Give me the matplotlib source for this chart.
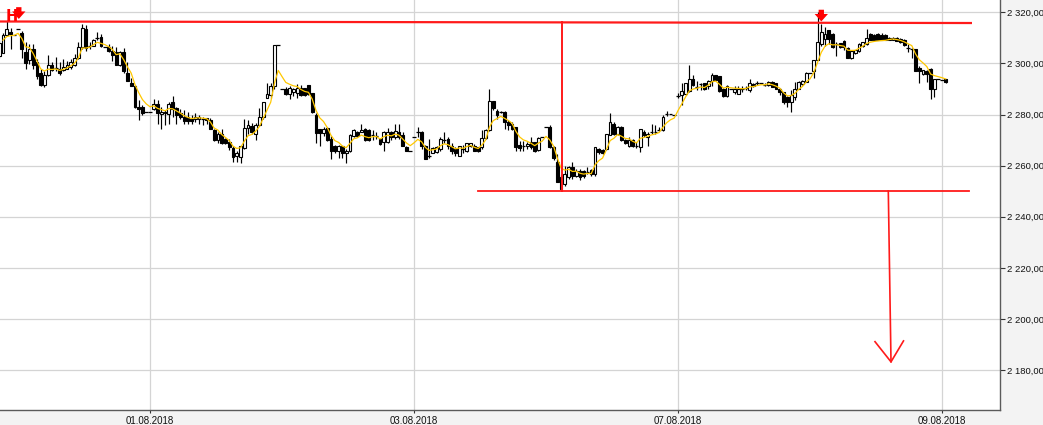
import numpy as np
import pandas as pd
import matplotlib
matplotlib.use("Agg")
import matplotlib.pyplot as plt
from matplotlib.ticker import FixedLocator, FuncFormatter

# ---------------- data (15-min candles) ----------------
opens = [
 2303.0,2304.1,2311.3,2312.4,2311.3,2313.3,2312.0,2304.4,2301.3,2305.7,
 2300.4,2296.4,2291.7,2295.3,2299.3,2298.5,2297.7,2297.5,2298.0,2298.4,
 2299.3,2302.0,2306.3,2313.5,2307.1,2307.0,2310.0,2310.4,2306.4,2306.4,
 2305.0,2304.4,2299.3,2304.4,2296.1,2292.4,2291.3,2283.0,2282.8,2280.8,
 2280.8,2282.0,2284.1,2280.1,2281.0,2280.1,2285.0,2282.4,2280.4,2279.0,
 2279.0,2278.4,2278.4,2278.4,2278.4,2278.5,2278.0,2274.0,2270.0,2272.3,
 2270.3,2269.2,2267.0,2263.6,2263.3,2266.9,2274.9,2275.6,2272.3,2275.9,
 2278.9,2286.3,2287.6,2291.2,2307.2,2290.0,2290.0,2288.0,2288.8,2288.4,
 2290.4,2290.4,2291.5,2288.4,2279.7,2274.4,2272.8,2274.7,2270.4,2267.5,
 2265.7,2267.5,2264.8,2265.7,2271.7,2273.1,2273.3,2274.4,2274.1,2272.1,
 2271.8,2270.4,2269.3,2269.3,2273.1,2271.1,2273.1,2272.0,2267.1,2265.7,
 2271.1,2273.1,2273.1,2267.7,2263.8,2265.0,2265.3,2266.4,2270.2,2270.4,
 2267.5,2266.4,2263.7,2266.8,2265.7,2267.5,2267.5,2267.1,2267.1,2270.7,
 2274.1,2285.1,2281.3,2281.2,2281.1,2277.0,2276.3,2275.0,2268.1,2267.9,
 2267.6,2269.2,2269.2,2266.3,2271.2,2275.1,2275.2,2267.3,2261.3,2255.5,
 2252.7,2255.4,2259.3,2256.0,2258.0,2258.0,2257.7,2258.3,2256.6,2266.5,
 2266.2,2266.5,2272.1,2276.4,2272.5,2275.1,2270.2,2267.8,2270.2,2267.9,
 2267.2,2273.1,2271.1,2273.2,2273.2,2274.3,2273.8,2280.5,2280.2,2280.0,
 2287.5,2287.7,2287.9,2289.3,2294.0,2291.1,2292.0,2292.3,2291.0,2293.0,
 2295.4,2295.0,2290.1,2287.4,2290.1,2288.7,2287.9,2290.0,2290.3,2289.7,
 2291.9,2292.4,2292.3,2291.7,2291.6,2292.9,2292.3,2290.0,2288.9,2286.9,
 2284.9,2286.9,2290.0,2291.9,2292.9,2296.3,2296.9,2301.2,2307.6,2309.6,
 2313.2,2311.6,2307.7,2307.9,2308.9,2306.0,2302.0,2303.9,2304.9,2306.9,
 2307.6,2311.6,2311.3,2311.6,2311.3,2311.3,2309.2,2309.2,2310.0,2309.6,
 2309.2,2306.4,2305.7,2305.6,2298.3,2295.9,2297.2,2298.0,2290.0,2294.0,
 2293.6,2294.0]
highs = [
 2309.0,2312.0,2316.4,2313.7,2311.3,2313.3,2312.5,2308.4,2307.7,2307.7,
 2301.7,2297.7,2297.0,2303.3,2300.4,2302.4,2300.4,2301.7,2301.0,2301.7,
 2303.7,2308.4,2315.3,2315.0,2308.4,2309.5,2312.4,2311.7,2306.4,2307.7,
 2307.0,2306.4,2305.0,2306.0,2300.4,2294.4,2291.7,2285.6,2283.7,2280.8,
 2280.8,2286.0,2285.7,2283.0,2281.7,2285.0,2287.3,2283.0,2282.0,2281.7,
 2281.0,2280.0,2280.4,2279.7,2279.0,2278.7,2278.5,2274.5,2273.0,2274.3,
 2271.0,2270.3,2267.6,2265.6,2267.6,2278.3,2278.0,2276.7,2276.7,2282.5,
 2284.9,2292.3,2292.3,2307.2,2307.2,2290.0,2290.7,2291.0,2290.4,2292.0,
 2291.5,2290.4,2291.5,2288.4,2280.4,2274.4,2275.0,2275.0,2271.7,2268.0,
 2268.0,2267.5,2266.4,2272.4,2274.4,2273.7,2276.4,2274.7,2274.4,2274.1,
 2273.0,2271.0,2273.7,2274.7,2273.7,2276.4,2276.4,2273.1,2267.5,2265.7,
 2271.1,2275.0,2273.7,2268.0,2270.4,2267.1,2267.5,2271.1,2273.1,2271.1,
 2269.0,2267.1,2267.7,2268.0,2269.0,2269.0,2268.4,2267.3,2274.1,2274.4,
 2290.1,2285.1,2282.1,2281.5,2281.3,2277.7,2277.0,2275.0,2269.8,2269.8,
 2269.2,2271.1,2269.2,2271.1,2271.2,2275.1,2275.9,2267.7,2264.6,2256.5,
 2260.0,2260.0,2261.3,2258.7,2258.7,2258.3,2259.3,2258.5,2267.2,2266.8,
 2266.5,2272.5,2280.4,2277.1,2275.5,2275.5,2270.5,2271.1,2270.6,2269.1,
 2274.4,2273.8,2273.1,2276.4,2275.8,2275.0,2280.0,2281.5,2280.2,2280.0,
 2288.3,2292.3,2292.3,2299.3,2295.6,2293.0,2292.3,2292.5,2293.6,2296.3,
 2295.6,2295.2,2290.3,2291.7,2290.1,2291.0,2291.0,2291.0,2291.0,2294.0,
 2292.3,2293.0,2292.3,2292.2,2293.2,2293.2,2292.5,2290.2,2288.9,2287.3,
 2289.6,2292.9,2293.0,2293.4,2296.5,2296.3,2301.2,2320.3,2315.6,2314.3,
 2313.2,2311.8,2308.3,2308.1,2309.2,2306.3,2305.2,2305.4,2307.8,2308.5,
 2313.6,2311.8,2311.6,2311.8,2311.8,2311.5,2310.2,2310.2,2310.2,2310.0,
 2309.5,2307.6,2306.0,2305.6,2298.9,2297.6,2297.6,2298.3,2294.0,2294.0,
 2293.6,2294.0]
lows = [
 2302.0,2304.0,2311.0,2305.7,2311.3,2313.3,2302.0,2298.0,2299.7,2297.7,
 2293.7,2291.3,2290.8,2295.0,2297.0,2297.0,2295.3,2297.0,2297.7,2298.0,
 2299.0,2301.7,2305.7,2305.0,2305.7,2306.8,2309.0,2306.4,2306.4,2304.4,
 2301.0,2299.3,2299.0,2296.4,2293.0,2291.0,2282.4,2278.0,2280.0,2280.8,
 2280.8,2281.7,2276.1,2274.4,2275.7,2276.1,2279.0,2276.1,2278.4,2276.1,
 2276.4,2276.4,2277.0,2276.1,2275.9,2276.3,2274.3,2269.6,2268.7,2268.3,
 2268.3,2266.3,2261.6,2261.6,2260.9,2266.5,2272.3,2272.3,2270.0,2275.6,
 2278.3,2286.3,2286.3,2290.0,2307.2,2290.0,2287.5,2286.1,2287.1,2286.4,
 2287.1,2287.1,2287.5,2280.4,2268.8,2267.7,2271.7,2269.7,2262.7,2265.1,
 2263.1,2263.1,2261.1,2265.3,2271.1,2271.1,2273.0,2269.7,2269.7,2270.1,
 2270.5,2268.0,2265.7,2269.0,2270.1,2270.4,2270.4,2267.5,2265.7,2265.7,
 2271.1,2271.1,2266.4,2262.4,2263.1,2264.8,2265.0,2265.7,2269.0,2266.4,
 2264.4,2263.7,2263.7,2265.0,2265.3,2267.3,2265.7,2265.5,2266.4,2270.4,
 2273.7,2281.7,2278.1,2280.6,2274.4,2274.1,2274.1,2265.9,2265.9,2265.9,
 2266.5,2266.5,2265.5,2265.9,2271.2,2275.1,2266.9,2262.0,2253.4,2250.2,
 2252.0,2254.7,2254.7,2255.4,2254.4,2255.0,2256.7,2256.0,2255.9,2264.5,
 2264.6,2266.2,2271.8,2271.8,2272.0,2269.8,2268.5,2267.2,2267.2,2266.8,
 2265.2,2271.1,2267.8,2272.5,2272.5,2273.5,2273.5,2279.5,2280.2,2280.0,
 2286.4,2283.7,2287.7,2289.0,2291.0,2289.7,2289.7,2289.7,2290.1,2291.0,
 2293.4,2289.0,2287.0,2287.0,2290.1,2287.9,2287.9,2288.7,2289.5,2289.0,
 2290.6,2291.5,2292.3,2291.0,2291.3,2290.6,2289.8,2287.6,2284.3,2282.9,
 2280.9,2285.6,2289.8,2291.6,2292.6,2296.3,2294.3,2301.2,2306.9,2306.9,
 2307.6,2306.0,2302.9,2306.0,2305.2,2302.0,2301.8,2303.6,2304.6,2306.6,
 2307.3,2309.0,2309.0,2309.0,2309.0,2309.0,2309.0,2309.0,2308.7,2308.0,
 2307.0,2304.3,2302.3,2296.9,2292.3,2295.5,2292.9,2286.0,2286.9,2294.0,
 2293.6,2292.3]
closes = [
 2308.0,2311.3,2313.3,2311.5,2311.3,2313.3,2305.7,2300.0,2305.7,2299.3,
 2295.0,2291.7,2295.3,2299.3,2297.3,2298.3,2296.1,2298.4,2299.5,2300.7,
 2302.1,2306.3,2313.7,2306.0,2307.0,2309.3,2310.1,2307.0,2306.4,2305.0,
 2303.3,2299.3,2304.4,2297.0,2293.0,2291.3,2282.8,2282.1,2280.4,2280.8,
 2280.8,2284.1,2280.4,2281.0,2280.5,2284.1,2282.0,2279.7,2279.0,2277.5,
 2277.5,2277.5,2279.0,2279.0,2278.2,2277.9,2274.5,2270.0,2272.3,2268.7,
 2268.7,2267.3,2263.3,2264.9,2267.6,2274.7,2276.0,2273.2,2276.0,2278.9,
 2284.9,2287.9,2291.2,2307.2,2307.2,2290.0,2288.0,2290.4,2290.0,2290.4,
 2287.5,2287.5,2288.0,2280.8,2272.8,2272.8,2274.4,2270.1,2265.7,2265.7,
 2267.7,2264.8,2265.7,2272.0,2274.1,2271.7,2274.1,2270.1,2270.1,2272.0,
 2271.7,2268.4,2273.1,2273.1,2271.1,2273.7,2271.1,2267.5,2265.7,2265.7,
 2271.1,2273.0,2267.5,2262.7,2263.6,2266.7,2267.1,2270.4,2270.0,2267.5,
 2265.7,2265.0,2267.5,2266.6,2268.8,2268.8,2265.7,2265.7,2270.7,2274.1,
 2285.1,2282.7,2280.0,2281.0,2277.0,2276.0,2274.4,2267.2,2266.8,2267.7,
 2268.5,2267.2,2265.9,2270.8,2271.2,2275.1,2267.3,2262.9,2253.6,2251.0,
 2256.7,2259.3,2256.0,2258.0,2255.4,2256.0,2257.5,2256.6,2267.2,2265.2,
 2265.0,2272.5,2277.1,2272.5,2275.1,2270.2,2268.9,2270.2,2267.5,2267.7,
 2274.2,2271.8,2272.5,2273.0,2273.1,2274.1,2279.1,2280.3,2280.2,2280.0,
 2287.3,2289.3,2292.3,2294.0,2291.4,2290.9,2291.8,2290.1,2293.2,2295.6,
 2293.6,2289.3,2287.4,2291.3,2290.1,2289.9,2290.1,2289.8,2290.2,2292.3,
 2291.0,2292.2,2292.3,2291.5,2292.9,2290.9,2290.0,2288.7,2284.9,2284.9,
 2287.6,2290.0,2292.9,2293.2,2296.3,2296.3,2301.2,2308.3,2312.3,2311.6,
 2309.6,2306.3,2307.5,2306.3,2306.3,2302.0,2304.9,2305.2,2307.6,2308.3,
 2310.0,2309.2,2309.2,2309.2,2309.2,2309.2,2310.0,2310.0,2308.9,2308.3,
 2307.3,2306.2,2305.5,2297.2,2296.9,2297.6,2295.9,2290.0,2294.0,2294.0,
 2293.6,2292.9]

date_labels = ["01.08.2018", "03.08.2018", "07.08.2018", "09.08.2018"]
date_first_bar = [40, 110, 180, 250]          # first candle of each labelled day
y_tick_values = [2180, 2200, 2220, 2240, 2260, 2280, 2300, 2320]

resistance_level = [2316.4, 2315.8]           # upper red line (left, right)
support_level = 2250.1                         # lower red line
target_level = 2183.2                          # arrow tip

# ---------------- figure ----------------
W, H = 1043, 425
fig = plt.figure(figsize=(W / 100, H / 100), dpi=100, facecolor="#f3f3f3")
ax = fig.add_axes([0, 15 / H, 1000 / W, 410 / H])
ax.set_facecolor("white")

o = np.array(opens); h = np.array(highs); l = np.array(lows); c = np.array(closes)
n = len(c)
x = np.arange(n)

# pixel geometry: candle i sits at px = -0.8 + 3.771 * i
SP = 3.771
x0 = 0.8 / SP
ax.set_xlim(x0, x0 + 1000 / SP)
ax.set_ylim(2164.36, 2324.81)

# grid
for d in date_first_bar:
    ax.axvline(d, color="#d4d4d4", lw=0.9, zorder=0)
for yv in y_tick_values:
    ax.axhline(yv, color="#d4d4d4", lw=0.9, zorder=0)

# wicks
ax.vlines(x, l, h, color="black", lw=0.85, zorder=2)

# bodies
bw = 0.74
body = c - o
big = np.abs(body) >= 0.3
up = big & (body > 0)
dn = big & (body < 0)
ax.bar(x[up], body[up], bottom=o[up], width=bw, color="white",
       edgecolor="black", linewidth=0.8, zorder=3)
ax.bar(x[dn], body[dn], bottom=o[dn], width=bw, color="black",
       edgecolor="black", linewidth=0.8, zorder=3)
flat = ~big
ax.hlines(c[flat], x[flat] - bw / 2 - 0.1, x[flat] + bw / 2 + 0.1,
          color="black", lw=0.9, zorder=3)

# moving average (yellow)
ema = pd.Series(c).ewm(span=5, adjust=False).mean().to_numpy()
ax.plot(x[1:], ema[1:], color="#ffc800", lw=0.9, zorder=4)

# red drawings
def px2i(px):
    return (px + 0.8) / SP

ax.plot([px2i(0), px2i(972)], resistance_level, color="#ff1a1a", lw=1.6,
        zorder=5, solid_capstyle="butt")
ax.plot([px2i(478), px2i(969)], [support_level, support_level],
        color="#ff1a1a", lw=1.3, zorder=5)
ax.plot([px2i(561.7), px2i(561.7)], [resistance_level[0] - 0.3, support_level],
        color="#ff1a1a", lw=1.4, zorder=5)
ax.plot([px2i(888.3), px2i(891)], [support_level, target_level],
        color="#ff1a1a", lw=1.2, zorder=5)
ax.plot([px2i(875), px2i(891), px2i(903.5)], [2191.1, target_level, 2191.4],
        color="#ff1a1a", lw=1.2, zorder=5)

# "H" and down arrows
ax.text(px2i(5.5), 2318.4, "H", color="#ff0000", fontsize=10.5, fontweight="bold",
        ha="left", va="center", family="DejaVu Sans", zorder=6)
for px, ytop, ytip in [(18.8, 2322.0, 2317.4), (821.3, 2321.0, 2316.4)]:
    ax.annotate("", xy=(px2i(px), ytip), xytext=(px2i(px), ytop),
                arrowprops=dict(arrowstyle="simple,head_length=0.45,head_width=0.8,tail_width=0.32",
                                color="#ff0000", lw=0, mutation_scale=12,
                                shrinkA=0, shrinkB=0),
                zorder=6)

# axes styling
for s in ["left", "top"]:
    ax.spines[s].set_visible(False)
for s in ["right", "bottom"]:
    ax.spines[s].set_color("#5a5a5a")
    ax.spines[s].set_linewidth(1.0)

ax.yaxis.tick_right()
ax.yaxis.set_major_locator(FixedLocator(y_tick_values))
ax.yaxis.set_major_formatter(FuncFormatter(
    lambda v, p: "{:,.2f}".format(v).replace(",", " ").replace(".", ",")))
ax.xaxis.set_major_locator(FixedLocator(date_first_bar))
ax.set_xticklabels(date_labels)
ax.tick_params(axis="y", direction="out", length=3.5, width=0.8, color="#333333",
               labelsize=6.8, pad=1.5, labelcolor="#111111")
ax.tick_params(axis="x", direction="out", length=2.5, width=0.8, color="#333333",
               labelsize=7, pad=2, labelcolor="#111111")
for lab in ax.get_yticklabels() + ax.get_xticklabels():
    lab.set_family("Liberation Sans")

fig.savefig("out.png", dpi=100, facecolor=fig.get_facecolor())
